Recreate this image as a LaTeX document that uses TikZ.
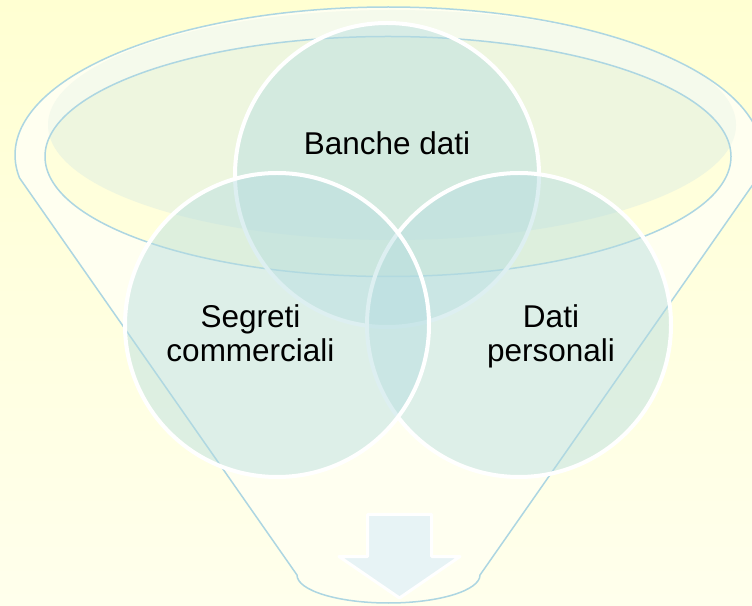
\documentclass[tikz,border=0pt]{standalone}
\usepackage{fontspec}
\setmainfont{Liberation Sans}
\usetikzlibrary{positioning}

\definecolor{bgTop}{HTML}{FFFFD2}
\definecolor{bgBottom}{HTML}{FFFFEC}
\definecolor{funnelBody}{HTML}{FFFFF0}
\definecolor{rimGlow}{HTML}{F5FAEC}
\definecolor{innerFill}{HTML}{FFFFDC}
\definecolor{innerGlow}{HTML}{EEF6DF}
\definecolor{funnelLine}{HTML}{ADD6E2}
\definecolor{vennFill}{HTML}{B4DCE0}
\definecolor{arrowFill}{HTML}{E7F3F5}

\begin{document}
\begin{tikzpicture}[
            x=1pt, y=1pt,
            declare function={
                R = 152;
                Tilt = 8.94;
            },
            funnel line/.style={draw=funnelLine, line width=1.5pt},
            venn/.style={circle, minimum size={2*R}, inner sep=0pt, outer sep=0pt,
                draw=white, line width=4pt, fill=vennFill, fill opacity=0.45},
            venn text/.style={font=\fontsize{31.5}{34}\selectfont, align=center,
                anchor=base, inner sep=0pt}
        ]
            \useasboundingbox (0, 0) rectangle (752, 605);
            \shade[top color=bgTop, bottom color=bgBottom] (0, 0) rectangle (752, 605);

            % funnel body
            \fill[funnelBody] ({388.5 + 373.5*cos(180+Tilt)}, 427) -- (297, 30)
                arc[start angle=180, end angle=360, x radius=91.5, y radius=28]
                -- ({388.5 + 373.5*cos(-Tilt)}, 427)
                arc[start angle=-Tilt, end angle=180+Tilt, x radius=373.5, y radius=148]
                -- cycle;

            % rim
            \fill[rimGlow] (392, 480) ellipse[x radius=344, y radius=115];
            \fill[innerFill] (388, 448.5) ellipse[x radius=343, y radius=120];
            \begin{scope}
                \clip (388, 448.5) ellipse[x radius=343, y radius=120];
                \fill[innerGlow] (392, 480) ellipse[x radius=344, y radius=115];
            \end{scope}
            \draw[funnel line] (388, 448.5) ellipse[x radius=343, y radius=120];

            \draw[funnel line, line join=round] ({388.5 + 373.5*cos(180+Tilt)}, 427) -- (297, 30)
                arc[start angle=180, end angle=360, x radius=91.5, y radius=28]
                -- ({388.5 + 373.5*cos(-Tilt)}, 427)
                arc[start angle=-Tilt, end angle=180+Tilt, x radius=373.5, y radius=148]
                -- cycle;

            % arrow
            \filldraw[fill=arrowFill, draw=white, line width=3pt, line join=round]
                (367.5, 90.5) -- (431.5, 90.5) -- (431.5, 48.5) -- (460, 48.5)
                -- (399.5, 7) -- (339, 48.5) -- (367.5, 48.5) -- cycle;

            % circles
            \node[venn] (banche) at (387, 430) {};
            \node[venn] (personali) at (519, 280) {};
            \node[venn] (segreti) at (277, 280) {};

            \node[venn text] (bancheText) at ([yshift=20pt]banche.center) {Banche dati};
            \node[venn text] (segretiText) at ([xshift=-26.5pt, yshift=-37pt]segreti.center) {Segreti\\commerciali};
            \node[venn text] (personaliText) at ([xshift=32pt, yshift=-37pt]personali.center) {Dati\\personali};
        \end{tikzpicture}
\end{document}
